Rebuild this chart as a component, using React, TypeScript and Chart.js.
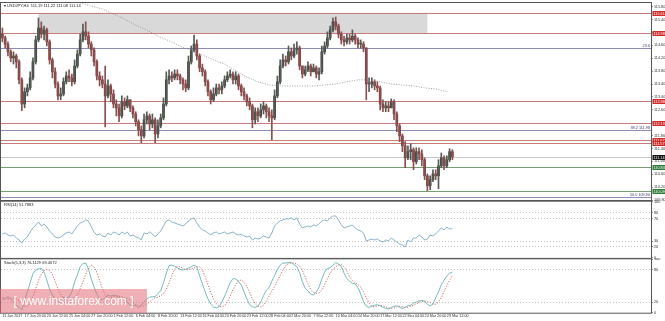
import React, { useEffect, useRef } from "react";
import { Chart, registerables } from "chart.js";

Chart.register(...registerables);

const FONT = "'Liberation Sans', Arial, sans-serif";
const TOTAL_SLOTS = 234;
const LABEL_STEP = 8;
const MA_STEP = 4;

const titleText = "\u25BE USDJPY,H4  111.19 111.22 111.08 111.14";
const rsiTitle = "RSI(14) 51.7883";
const stochTitle = "Stoch(5,3,3) 76.1129 69.4072";
const watermark = "[ www.instaforex.com ]";

const dateLabels = [
  "11 Jan 2017", "17 Jan 20:00", "20 Jan 12:00", "25 Jan 04:00", "27 Jan 20:00",
  "1 Feb 12:00", "6 Feb 04:00", "8 Feb 20:00", "13 Feb 12:00", "16 Feb 04:00",
  "20 Feb 20:00", "23 Feb 12:00", "28 Feb 04:00", "2 Mar 20:00", "7 Mar 12:00",
  "10 Mar 04:00", "14 Mar 20:00", "17 Mar 12:00", "22 Mar 04:00", "24 Mar 20:00",
  "29 Mar 12:00",
];

const firstOpen = 114.95;
const closes = [
  114.83, 114.64, 114.40, 114.21, 114.27, 114.09, 113.53, 112.78, 113.16, 113.28,
  113.59, 114.09, 114.77, 115.14, 114.95, 115.08, 114.71, 114.15, 113.78, 113.40,
  113.03, 113.09, 113.47, 113.65, 113.59, 113.47, 113.96, 114.33, 114.77, 115.02,
  114.89, 114.64, 114.46, 114.09, 113.65, 113.53, 113.40, 113.03, 113.34, 113.09,
  112.78, 112.66, 112.41, 112.85, 112.72, 112.91, 112.66, 112.47, 112.23, 111.98,
  111.79, 112.29, 112.41, 112.16, 112.29, 111.85, 112.10, 112.35, 112.78, 113.53,
  113.65, 113.59, 113.71, 113.65, 113.53, 113.40, 113.28, 114.09, 114.46, 114.64,
  114.27, 113.90, 113.78, 113.47, 113.16, 112.91, 113.09, 113.28, 113.22, 113.34,
  113.53, 113.65, 113.71, 113.53, 113.65, 113.34, 113.16, 113.03, 112.85, 112.72,
  112.29, 112.54, 112.41, 112.60, 112.72, 112.54, 112.41, 112.35, 113.03, 113.47,
  113.96, 114.15, 114.09, 114.40, 114.27, 114.46, 114.52, 113.96, 113.71, 113.84,
  113.96, 113.78, 113.90, 113.71, 113.78, 114.40, 114.58, 114.83, 115.08, 115.33,
  115.20, 114.95, 114.77, 114.71, 114.83, 114.77, 114.89, 114.77, 114.64, 114.64,
  114.52, 113.40, 113.40, 113.47, 113.34, 113.28, 112.78, 112.66, 112.72, 112.66,
  112.85, 112.47, 112.10, 111.79, 111.48, 111.11, 111.30, 111.36, 110.99, 111.30,
  111.23, 111.05, 110.55, 110.24, 110.43, 110.61, 110.55, 110.86, 111.11, 110.86,
  111.05, 111.30, 111.14,
];
const highs = [
  115.14, 114.89, 114.71, 114.46, 114.40, 114.33, 114.15, 113.59, 113.28, 113.40,
  113.78, 114.21, 114.89, 115.45, 115.33, 115.20, 115.14, 114.77, 114.21, 113.90,
  113.47, 113.28, 113.59, 113.78, 113.84, 113.71, 114.15, 114.46, 114.95, 115.26,
  115.33, 115.02, 114.71, 114.52, 114.15, 113.78, 113.65, 113.96, 113.53, 113.40,
  113.22, 112.91, 112.78, 113.03, 112.97, 113.03, 112.91, 112.72, 112.54, 112.29,
  112.10, 112.47, 112.54, 112.47, 112.47, 112.35, 112.29, 112.47, 112.97, 113.78,
  113.84, 113.78, 113.84, 113.84, 113.71, 113.59, 113.53, 114.27, 114.58, 114.92,
  114.77, 114.33, 114.02, 113.84, 113.53, 113.22, 113.28, 113.40, 113.40, 113.47,
  113.65, 113.78, 113.84, 113.78, 113.78, 113.71, 113.40, 113.28, 113.09, 112.97,
  112.78, 112.66, 112.66, 112.78, 112.85, 112.78, 112.66, 112.60, 113.22, 113.65,
  114.15, 114.33, 114.27, 114.58, 114.52, 114.64, 114.71, 114.58, 113.96, 113.96,
  114.09, 114.02, 114.02, 113.96, 113.90, 114.58, 114.71, 115.02, 115.20, 115.45,
  115.48, 115.26, 115.02, 114.89, 114.95, 114.95, 115.08, 114.95, 114.83, 114.77,
  114.71, 114.52, 113.59, 113.59, 113.53, 113.47, 113.34, 112.91, 112.85, 112.85,
  112.94, 112.91, 112.54, 112.16, 111.85, 111.61, 111.48, 111.54, 111.42, 111.42,
  111.42, 111.36, 111.11, 110.61, 110.55, 110.74, 110.74, 111.05, 111.26, 111.17,
  111.17, 111.39, 111.36,
];
const lows = [
  114.71, 114.52, 114.27, 114.09, 114.02, 113.90, 113.40, 112.57, 112.66, 113.03,
  113.22, 113.53, 114.02, 114.71, 114.83, 114.77, 114.58, 114.02, 113.59, 113.28,
  112.91, 112.91, 113.03, 113.40, 113.47, 113.34, 113.40, 113.90, 114.27, 114.71,
  114.77, 114.52, 114.27, 113.96, 113.53, 113.34, 113.28, 112.07, 112.97, 112.85,
  112.66, 112.41, 112.23, 112.35, 112.60, 112.66, 112.54, 112.35, 112.10, 111.79,
  111.58, 111.73, 112.16, 111.98, 112.04, 111.58, 111.73, 112.04, 112.29, 112.72,
  113.40, 113.47, 113.53, 113.53, 113.40, 113.22, 113.16, 113.22, 114.02, 114.40,
  114.15, 113.78, 113.65, 113.34, 113.03, 112.78, 112.85, 113.03, 113.09, 113.09,
  113.28, 113.47, 113.59, 113.40, 113.40, 113.22, 113.03, 112.91, 112.72, 112.60,
  112.04, 112.16, 112.23, 112.35, 112.47, 112.35, 112.23, 111.67, 112.29, 112.97,
  113.40, 113.90, 113.96, 114.02, 114.15, 114.21, 114.33, 113.84, 113.59, 113.65,
  113.78, 113.65, 113.78, 113.59, 113.53, 113.71, 114.33, 114.52, 114.77, 115.02,
  115.08, 114.83, 114.64, 114.58, 114.64, 114.64, 114.71, 114.64, 114.52, 114.52,
  114.40, 112.91, 113.16, 113.28, 113.22, 113.16, 112.60, 112.54, 112.54, 112.54,
  112.66, 112.29, 111.92, 111.61, 111.30, 110.80, 111.05, 111.05, 110.74, 110.92,
  111.05, 110.86, 110.43, 110.09, 110.12, 110.37, 110.43, 110.15, 110.80, 110.74,
  110.80, 110.99, 111.05,
];

// moving average, one value every MA_STEP candles
const maValues = [
  116.78, 116.63, 116.47, 116.32, 116.22, 116.10, 116.01, 115.92, 115.82, 115.73,
  115.57, 115.42, 115.23, 115.08, 114.89, 114.74, 114.58, 114.43, 114.30, 114.15,
  114.02, 113.81, 113.62, 113.47, 113.37, 113.34, 113.34, 113.34, 113.34, 113.37,
  113.40, 113.47, 113.53, 113.53, 113.47, 113.40, 113.37, 113.34, 113.28, 113.25,
  113.16,
];

const rsiValues = [
  42.6, 44.3, 40.8, 39.0, 40.8, 35.4, 31.9, 26.5, 33.6, 37.2,
  46.1, 53.2, 58.6, 63.9, 56.8, 60.4, 55.0, 47.9, 42.6, 37.2,
  35.4, 37.2, 40.8, 44.3, 46.1, 42.6, 49.7, 56.8, 62.1, 63.9,
  67.5, 65.7, 55.0, 46.1, 40.8, 42.6, 39.0, 37.2, 44.3, 40.8,
  46.1, 44.3, 40.8, 46.1, 42.6, 46.1, 39.0, 40.8, 37.2, 35.4,
  31.9, 44.3, 42.6, 46.1, 42.6, 37.2, 42.6, 47.9, 56.8, 65.7,
  67.5, 63.9, 62.1, 60.4, 58.6, 56.8, 60.4, 65.7, 69.4, 71.2,
  62.1, 55.0, 49.7, 47.9, 44.3, 40.8, 44.3, 46.1, 42.6, 44.3,
  46.1, 42.6, 44.3, 46.1, 42.6, 40.8, 42.6, 39.0, 37.2, 39.0,
  31.9, 35.4, 33.6, 35.4, 39.0, 37.2, 35.4, 44.3, 56.8, 62.1,
  65.7, 67.5, 69.4, 69.4, 71.2, 67.5, 71.2, 60.4, 53.2, 55.0,
  56.8, 55.0, 58.6, 56.8, 60.4, 65.7, 67.5, 65.7, 71.2, 74.6,
  74.6, 67.5, 58.6, 53.2, 55.0, 56.8, 58.6, 53.2, 49.7, 47.9,
  44.3, 30.1, 31.9, 33.6, 31.9, 33.6, 30.1, 28.3, 31.9, 30.1,
  35.4, 31.9, 28.3, 24.7, 22.9, 19.4, 31.9, 28.3, 35.4, 35.4,
  40.8, 37.2, 31.9, 33.6, 40.8, 39.0, 42.6, 47.9, 53.2, 49.7,
  55.0, 51.5, 51.8,
];

const stochMain = [
  24, 26, 30, 26, 20, 14, 10, 5, 22, 39,
  56, 73, 80, 82, 83, 76, 61, 44, 33, 26,
  21, 24, 29, 28, 29, 39, 58, 71, 86, 92,
  93, 82, 63, 48, 35, 26, 24, 29, 33, 31,
  33, 31, 29, 24, 28, 20, 14, 13, 14, 9,
  14, 20, 26, 29, 30, 30, 36, 41, 56, 74,
  88, 89, 87, 84, 81, 80, 81, 84, 86, 89,
  86, 69, 54, 39, 26, 16, 11, 9, 11, 20,
  31, 43, 56, 64, 63, 59, 52, 39, 26, 15,
  11, 10, 12, 20, 32, 42, 47, 59, 70, 81,
  89, 93, 93, 94, 94, 90, 86, 75, 58, 46,
  41, 35, 33, 39, 48, 63, 76, 83, 84, 89,
  94, 91, 87, 74, 64, 59, 55, 54, 47, 35,
  21, 12, 10, 12, 14, 15, 13, 10, 8, 7,
  10, 12, 13, 10, 8, 10, 13, 14, 18, 20,
  22, 23, 21, 16, 13, 16, 28, 39, 52, 61,
  69, 74, 76.1,
];
const stochSignal = [
  28, 27, 26, 26, 27, 26, 22, 16, 12, 12,
  18, 30, 45, 60, 72, 79, 81, 79, 72, 58,
  45, 34, 27, 24, 25, 27, 29, 34, 45, 58,
  72, 84, 89, 86, 76, 60, 45, 34, 28, 28,
  30, 32, 31, 30, 28, 27, 24, 19, 15, 13,
  12, 13, 16, 20, 25, 28, 29, 32, 36, 44,
  56, 70, 82, 87, 86, 83, 81, 81, 82, 84,
  86, 86, 80, 68, 52, 38, 26, 17, 12, 11,
  13, 20, 31, 43, 53, 60, 61, 57, 49, 38,
  26, 17, 12, 11, 14, 21, 31, 40, 49, 59,
  70, 80, 88, 92, 93, 93, 91, 87, 79, 67,
  54, 44, 38, 36, 37, 42, 52, 64, 74, 81,
  86, 89, 90, 86, 78, 67, 60, 56, 53, 48,
  39, 28, 18, 12, 11, 13, 14, 13, 11, 9,
  8, 9, 11, 12, 11, 10, 10, 12, 14, 17,
  19, 21, 22, 21, 19, 16, 16, 20, 28, 40,
  51, 61, 69.4,
];

const priceTicks = [
  115.8, 115.4, 115.0, 114.6, 114.2, 113.8, 113.4, 113.0,
  112.6, 112.2, 111.8, 111.4, 111.0, 110.6, 110.2, 109.8,
];
const rsiTicks = [0, 20, 30, 70, 80, 100];
const rsiLevels = [20, 30, 70, 80];
const stochTicks = [0, 20, 80, 100];
const stochLevels = [20, 80];

// horizontal levels
const levelPrices = [115.61, 114.98, 114.52, 112.88, 112.19, 111.98, 111.67, 111.57, 111.14, 110.83, 110.09, 109.9];
const levelKinds = ["res", "res", "fib", "res", "res", "fib", "res", "res", "bid", "sup", "sup", "fib"];
const levelTags = ["115.61", "114.98", "23.6", "112.88", "112.19", "38.2 111.98", "111.67", "111.57", "111.14", "110.83", "110.09", "50.0 109.90"];

// resistance zone (price range and candle span)
const zoneTop = 115.61;
const zoneBottom = 114.98;
const zoneFrom = 13;
const zoneTo = 153;

const levelStyle: any = {
  res: { line: "#c97b7b", box: "#d22a2a", text: "#ffffff" },
  sup: { line: "#74a074", box: "#2e7a38", text: "#ffffff" },
  fib: { line: "#8b8bb8", box: null, text: "#3b3b78" },
  bid: { line: "#c6c6c6", box: "#111111", text: "#ffffff" },
};
const COLORS = {
  up: "#333a33",
  down: "#7b3838",
  upWick: "#555a55",
  downWick: "#8a5050",
  ma: "#8a8a8a",
  rsi: "#7eaac4",
  stMain: "#66b2b6",
  stSignal: "#d05a5a",
  level: "#b8b8b8",
  frame: "#555555",
  axisText: "#333333",
};

function xScale(show: boolean) {
  const s: any = {
    type: "linear",
    min: -0.5,
    max: TOTAL_SLOTS - 0.5,
    bounds: "data",
    offset: false,
    display: show,
    grid: { display: false, drawTicks: false },
    border: { display: false },
    afterBuildTicks: (sc: any) => {
      sc.ticks = dateLabels.map((_, k) => ({ value: k * LABEL_STEP }));
    },
    ticks: {
      autoSkip: false,
      maxRotation: 0,
      minRotation: 0,
      align: "start",
      padding: 1,
      color: COLORS.axisText,
      font: { size: 3.7, family: FONT },
      callback: (_v: any, i: number) => dateLabels[i] ?? "",
    },
  };
  if (show) {
    s.afterFit = (sc: any) => {
      sc.height = 8.3;
      sc.paddingLeft = 0;
      sc.paddingRight = 0;
    };
  }
  return s;
}

function yScale(min: number, max: number, values: number[], fmt: (v: number) => string, dotted?: number[]) {
  return {
    type: "linear",
    position: "right",
    min,
    max,
    bounds: "data",
    afterBuildTicks: (s: any) => {
      s.ticks = values.map((v) => ({ value: v }));
    },
    afterFit: (s: any) => {
      s.width = 14;
      s.paddingTop = 0;
      s.paddingBottom = 0;
    },
    grid: {
      display: true,
      drawOnChartArea: !!dotted,
      drawTicks: true,
      tickLength: 2,
      tickColor: "#777777",
      lineWidth: 0.8,
      color: (ctx: any) =>
        dotted && ctx.tick && dotted.includes(ctx.tick.value) ? COLORS.level : "rgba(0,0,0,0)",
    },
    border: { display: false, dash: [1, 2] },
    ticks: {
      autoSkip: false,
      padding: 1,
      color: COLORS.axisText,
      font: { size: 3.8, family: FONT },
      callback: (v: any) => fmt(Number(v)),
    },
  };
}

function framePlugin(title: string) {
  return {
    id: "frame",
    afterDraw(chart: any) {
      const { ctx, chartArea: a } = chart;
      ctx.save();
      ctx.strokeStyle = COLORS.frame;
      ctx.lineWidth = 1;
      ctx.strokeRect(a.left - 0.5, a.top - 0.5, a.right - a.left + 1, a.bottom - a.top + 1);
      ctx.fillStyle = "#222222";
      ctx.font = `4px ${FONT}`;
      ctx.textAlign = "left";
      ctx.textBaseline = "top";
      ctx.fillText(title, a.left + 3, a.top + 1.2);
      ctx.restore();
    },
  };
}

const mainDecor = {
  id: "mainDecor",
  beforeDatasetsDraw(chart: any) {
    const { ctx, chartArea: a, scales } = chart;
    const x = scales.x;
    const y = scales.y;
    ctx.save();
    const x0 = x.getPixelForValue(zoneFrom);
    const x1 = x.getPixelForValue(zoneTo);
    const y0 = y.getPixelForValue(zoneTop);
    const y1 = y.getPixelForValue(zoneBottom);
    ctx.fillStyle = "#d9d9d9";
    ctx.fillRect(x0, y0, x1 - x0, y1 - y0);
    ctx.lineWidth = 1;
    levelPrices.forEach((p, i) => {
      const py = Math.round(y.getPixelForValue(p)) + 0.5;
      ctx.strokeStyle = levelStyle[levelKinds[i]].line;
      ctx.beginPath();
      ctx.moveTo(a.left, py);
      ctx.lineTo(a.right, py);
      ctx.stroke();
    });
    ctx.restore();
  },
  afterDraw(chart: any) {
    const { ctx, chartArea: a, scales } = chart;
    const y = scales.y;
    ctx.save();
    levelPrices.forEach((p, i) => {
      const st = levelStyle[levelKinds[i]];
      const py = Math.round(y.getPixelForValue(p)) + 0.5;
      ctx.font = `3.8px ${FONT}`;
      if (st.box) {
        ctx.fillStyle = st.box;
        ctx.fillRect(a.right + 1.5, py - 2.5, 13, 5);
        ctx.fillStyle = st.text;
        ctx.textAlign = "left";
        ctx.textBaseline = "middle";
        ctx.fillText(levelTags[i], a.right + 2.5, py);
      } else {
        ctx.fillStyle = st.text;
        ctx.textAlign = "right";
        ctx.textBaseline = "bottom";
        ctx.fillText(levelTags[i], a.right - 1, py - 0.5);
      }
    });
    ctx.restore();
  },
};

export default function App() {
  const mainRef = useRef<HTMLCanvasElement>(null);
  const rsiRef = useRef<HTMLCanvasElement>(null);
  const stRef = useRef<HTMLCanvasElement>(null);

  useEffect(() => {
    Chart.defaults.font.family = FONT;
    const idx = closes.map((_, i) => i);
    const opens = idx.map((i) => (i === 0 ? firstOpen : closes[i - 1]));
    const up = idx.map((i) => closes[i] >= opens[i]);

    const common: any = {
      responsive: true,
      maintainAspectRatio: false,
      animation: false,
      events: [],
      plugins: { legend: { display: false }, tooltip: { enabled: false } },
    };

    const main = new Chart(mainRef.current as any, {
      type: "bar",
      data: {
        datasets: [
          {
            type: "line",
            data: maValues.map((v, k) => ({ x: k * MA_STEP, y: v })),
            borderColor: COLORS.ma,
            borderWidth: 0.8,
            borderDash: [1, 1.5],
            pointRadius: 0,
            tension: 0,
          } as any,
          {
            type: "bar",
            data: idx.map((i) => ({ x: i, y: [lows[i], highs[i]] })),
            backgroundColor: up.map((u) => (u ? COLORS.upWick : COLORS.downWick)),
            barThickness: 1,
            grouped: false,
            minBarLength: 1,
          } as any,
          {
            type: "bar",
            data: idx.map((i) => ({ x: i, y: [opens[i], closes[i]] })),
            backgroundColor: up.map((u) => (u ? COLORS.up : COLORS.down)),
            barThickness: 2,
            grouped: false,
            minBarLength: 1,
          } as any,
        ],
      },
      options: {
        ...common,
        layout: { padding: { left: 1, right: 0, top: 3, bottom: 3 } },
        scales: {
          x: xScale(false),
          y: yScale(109.8, 115.915, priceTicks, (v) => v.toFixed(2)) as any,
        },
      },
      plugins: [mainDecor, framePlugin(titleText)],
    });

    const rsi = new Chart(rsiRef.current as any, {
      type: "line",
      data: {
        datasets: [
          {
            data: rsiValues.map((v, i) => ({ x: i, y: v })),
            borderColor: COLORS.rsi,
            borderWidth: 0.9,
            pointRadius: 0,
            tension: 0,
          },
        ],
      },
      options: {
        ...common,
        layout: { padding: { left: 1, right: 0, top: 1.7, bottom: 1.1 } },
        scales: {
          x: xScale(false),
          y: yScale(0, 100, rsiTicks, (v) => String(v), rsiLevels) as any,
        },
      },
      plugins: [framePlugin(rsiTitle)],
    });

    const st = new Chart(stRef.current as any, {
      type: "line",
      data: {
        datasets: [
          {
            data: stochMain.map((v, i) => ({ x: i, y: v })),
            borderColor: COLORS.stMain,
            borderWidth: 0.9,
            pointRadius: 0,
            tension: 0,
          },
          {
            data: stochSignal.map((v, i) => ({ x: i, y: v })),
            borderColor: COLORS.stSignal,
            borderWidth: 0.9,
            borderDash: [1.2, 1.5],
            pointRadius: 0,
            tension: 0,
          },
        ],
      },
      options: {
        ...common,
        layout: { padding: { left: 1, right: 0, top: 1.3, bottom: 0 } },
        scales: {
          x: xScale(true),
          y: yScale(0, 100, stochTicks, (v) => String(v), stochLevels) as any,
        },
      },
      plugins: [framePlugin(stochTitle)],
    });

    return () => {
      main.destroy();
      rsi.destroy();
      st.destroy();
    };
  }, []);

  const box = (top: number, height: number): React.CSSProperties => ({
    position: "absolute",
    left: 0,
    top,
    width: 665,
    height,
  });

  return (
    <div style={{ position: "fixed", left: 0, top: 0, width: 665, height: 321, background: "#ffffff", overflow: "hidden" }}>
      <div style={box(0, 203)}>
        <canvas ref={mainRef} />
      </div>
      <div style={box(200, 59)}>
        <canvas ref={rsiRef} />
      </div>
      <div style={box(258, 63)}>
        <canvas ref={stRef} />
      </div>
      <div
        style={{
          position: "absolute",
          left: 0,
          top: 289,
          width: 147,
          height: 24,
          background: "rgba(226,110,118,0.55)",
          color: "#ffffff",
          fontFamily: FONT,
          fontSize: 12,
          lineHeight: "24px",
          textAlign: "center",
          whiteSpace: "nowrap",
        }}
      >
        {watermark}
      </div>
    </div>
  );
}
